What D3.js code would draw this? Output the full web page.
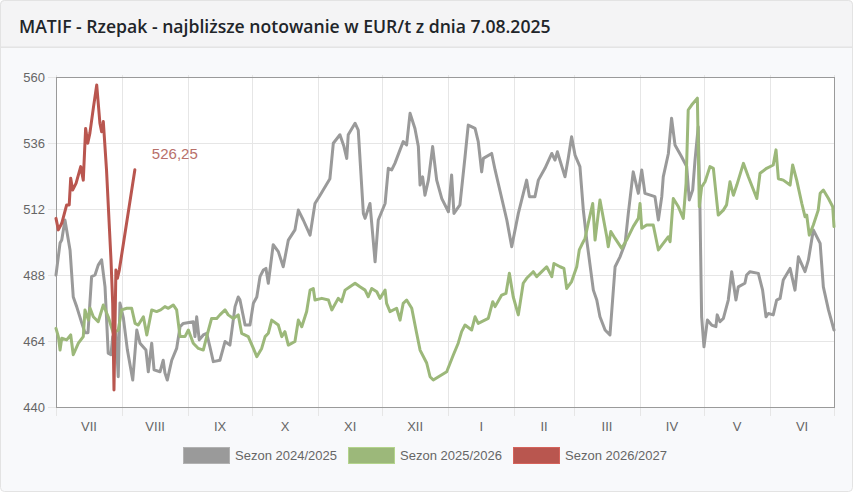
<!DOCTYPE html>
<html>
<head>
<meta charset="utf-8">
<script src="https://cdn.jsdelivr.net/npm/d3@7/dist/d3.min.js"></script>
<style>
    html, body { margin: 0; padding: 0; background: #fff; }
    #chart { width: 854px; height: 492px; }
    text { font-family: "Liberation Sans", Arial, Helvetica, sans-serif; }
</style>
</head>
<body>
<div id="chart"></div>
<script>
// month labels of the season (July -> June) and month lengths in days
var months = ["VII", "VIII", "IX", "X", "XI", "XII", "I", "II", "III", "IV", "V", "VI"];
var monthDays = [31, 31, 30, 31, 30, 31, 31, 28, 31, 30, 31, 30];
var yTicks = [440, 464, 488, 512, 536, 560];

var seriesNames = ["Sezon 2024/2025", "Sezon 2025/2026", "Sezon 2026/2027"];
var seriesColors = ["#9a9a9a", "#9cb87a", "#b9564f"];

// x = day of season (0 = 1 July), y = EUR/t
var days2425 = [0, 1.9, 2.7, 4.2, 6.6, 8.1, 9.7, 12.1, 13.6, 15.0, 16.7, 18.3, 19.8, 21.4, 23.0, 24.5, 25.8, 26.6, 28.1, 29.2,
    30.0, 31.6, 33.5, 36.0, 37.9, 39.4, 42.2, 43.3, 44.9, 46.0, 48.8, 50.3, 51.1, 52.2, 54.3, 56.6, 58.2, 59.7, 64.4, 65.2,
    66.0, 67.2, 69.1, 70.7, 72.2, 73.8, 76.9, 79.3, 81.6, 84.0, 85.5, 86.3, 88.7, 91.0, 92.6, 94.2, 95.7, 97.3, 98.5, 99.6,
    101.9, 104.3, 106.6, 109.0, 112.1, 113.7, 116.0, 119.2, 121.5, 123.9, 128.5, 130.1, 133.2, 135.1, 136.4, 137.1, 140.3, 141.8, 144.2, 145.0,
    147.3, 149.7, 151.2, 154.4, 155.9, 157.5, 159.0, 161.4, 162.9, 164.5, 166.1, 168.4, 170.0, 170.8, 172.0, 173.1, 174.7, 176.7, 178.6, 181.0,
    184.1, 185.6, 186.7, 189.5, 191.9, 193.4, 196.6, 198.1, 199.7, 200.5, 204.4, 206.0, 211.5, 213.8, 216.9, 220.8, 222.1, 224.7, 226.3, 229.4,
    232.6, 234.1, 235.2, 238.8, 240.3, 241.9, 243.5, 245.8, 247.4, 249.0, 252.1, 253.7, 255.2, 257.6, 259.9, 262.3, 264.6, 267.0, 268.5, 270.8,
    273.2, 274.8, 276.3, 281.0, 282.6, 284.2, 284.9, 287.3, 288.8, 290.4, 293.5, 295.9, 297.1, 298.7, 299.8, 301.3, 302.1, 302.9, 304.0, 305.6,
    307.6, 309.6, 310.2, 311.5, 313.1, 315.4, 317.0, 319.0, 320.1, 323.2, 324.0, 325.6, 329.5, 331.5, 333.1, 334.2, 336.5, 338.1, 339.7, 341.2,
    344.4, 346.7, 348.3, 351.4, 353.0, 355.3, 358.5, 360.0, 362.4, 365];
var vals2425 = [488, 499.6, 500.7, 508, 497, 480, 476.5, 470.5, 467, 467, 487.4, 488, 491.6, 493.5, 483.7, 459.6, 459, 465.6, 467, 451,
    477.8, 472.4, 460.7, 449.8, 468, 463.2, 460.7, 452.8, 463.2, 453.5, 452.8, 457, 452.4, 449.8, 457, 461.3, 469.2, 470.4, 471, 465.6,
    472.8, 464.4, 466.2, 466.8, 461.9, 456.5, 457, 463.8, 462.5, 476.5, 480, 479, 469.8, 469.8, 477.7, 480, 487.4, 489.8, 490.4, 485,
    499, 496.5, 491, 500.7, 504.4, 511.6, 508, 502.5, 514, 517, 523, 535.9, 539, 534.7, 530.4, 539, 543.2, 540.7, 510.4, 508.6,
    514, 492.8, 508, 514, 526.8, 526.2, 528.6, 533.5, 536.5, 535.3, 546.8, 541.3, 534.7, 520.7, 523.7, 517, 522.5, 534.7, 522.5, 515.8,
    511, 524.4, 510.4, 513.5, 531, 542.5, 541.3, 536.5, 525.5, 530.4, 532.2, 526.2, 508, 498.3, 510.4, 522.5, 516.5, 516.5, 522.5, 526.8,
    532.2, 529.8, 532.8, 523.7, 530.4, 538.3, 531.6, 527.4, 511.6, 500.7, 482.5, 478.9, 472.8, 468, 466.2, 491, 494.6, 499.5, 510.4, 525.5,
    517.7, 526.2, 517.7, 516.5, 508, 516.5, 523.7, 532.2, 545, 535.3, 531, 527.4, 515.3, 518.9, 529.8, 541.9, 512.8, 472.8, 461.9, 471.6,
    469.8, 469.2, 473.5, 471, 472.2, 478.9, 489.2, 478.9, 483.7, 485, 488, 489.2, 488.6, 482.5, 472.8, 474, 473.5, 478.9, 479.5, 486.2,
    490.4, 482.5, 494.6, 489.2, 493.5, 504.4, 499.5, 483.7, 475.3, 468];

var days2526 = [0, 1.1, 1.9, 2.7, 5.0, 6.9, 8.1, 10.5, 12.8, 13.6, 15.2, 16.0, 17.5, 19.8, 22.2, 24.5, 26.9, 29.2, 30.8, 33.2,
    35.5, 37.1, 38.6, 41.0, 42.6, 44.9, 47.2, 49.1, 51.1, 52.7, 55.0, 56.6, 58.2, 60.5, 62.1, 64.4, 66.8, 69.1, 70.7, 73.0,
    75.4, 76.9, 79.3, 80.8, 83.2, 85.5, 87.1, 90.2, 92.6, 94.2, 96.5, 98.1, 99.6, 101.2, 104.3, 105.9, 107.4, 109.0, 112.1, 113.7,
    115.3, 117.6, 119.2, 120.7, 121.5, 124.7, 127.8, 129.4, 132.4, 134.0, 135.6, 137.9, 140.3, 142.6, 145.0, 146.5, 148.1, 150.5, 152.0, 154.4,
    155.1, 156.7, 159.8, 161.4, 162.9, 164.5, 166.9, 169.2, 170.8, 173.9, 175.5, 177.0, 183.3, 186.4, 188.7, 190.3, 191.9, 195.0, 196.6, 198.1,
    202.8, 204.9, 206.0, 209.1, 211.1, 212.7, 214.5, 216.9, 219.2, 220.8, 223.9, 225.5, 227.9, 230.2, 232.6, 233.6, 236.5, 238.3, 239.6, 241.9,
    244.3, 245.5, 246.6, 248.2, 249.7, 251.8, 252.9, 255.2, 258.4, 259.1, 260.3, 262.3, 265.4, 267.7, 270.8, 273.2, 274.0, 274.8, 277.1, 280.2,
    282.6, 284.9, 287.3, 288.1, 289.6, 292.0, 294.3, 295.6, 296.6, 298.2, 300.9, 301.8, 302.9, 304.5, 306.8, 308.4, 310.7, 313.1, 314.6, 316.2,
    317.8, 319.4, 322.5, 324.8, 328.8, 330.3, 333.4, 336.5, 337.8, 338.9, 341.2, 344.4, 345.6, 347.5, 349.9, 351.4, 352.2, 353.4, 355.3, 357.6,
    358.5, 360.0, 362.4, 364.4, 365];
var vals2526 = [468.6, 465.6, 460.7, 465, 464.4, 466.2, 459, 463.2, 465.6, 475.3, 471.6, 475.9, 472.8, 471, 477.1, 472.8, 466.8, 468, 475.3, 475.9,
    475.9, 470.4, 469.8, 472.8, 466.2, 475.3, 474.7, 475.3, 476.5, 475.9, 477.1, 475.3, 465.6, 465.6, 468, 463.2, 461.3, 460.7, 465.6, 472.2,
    472.2, 473.5, 475.3, 473.5, 472.2, 473.5, 466.8, 465.6, 461.3, 458.3, 461.3, 465.6, 466.8, 471.6, 469.8, 465.6, 467.4, 462.5, 463.8, 471.6,
    469.2, 474.7, 482.5, 483.1, 478.9, 479.5, 478.9, 475.3, 479.5, 478.3, 482.5, 483.7, 485, 483.7, 482.5, 480.1, 483.1, 481.9, 479.5, 482.5,
    477.7, 474.7, 475.9, 471.6, 477.7, 478.9, 475.9, 466.8, 460.7, 456, 451, 449.8, 452.8, 458.9, 463.2, 467.4, 469.8, 468, 472.8, 470.4,
    472.2, 478.3, 476.5, 480.7, 481.3, 488.6, 480.1, 473.5, 485, 486.8, 489.2, 487.4, 489.2, 491, 487.4, 492.2, 491, 490.4, 483.1, 485.6,
    491, 497.1, 498.9, 501.3, 506.8, 514, 500.7, 515.3, 501.9, 498.3, 503.8, 501.3, 497.7, 500.7, 505.6, 508.6, 514, 505, 506.2, 506.2,
    497.1, 499.5, 501.9, 500.1, 515.8, 512.8, 508.6, 521.3, 548, 549.8, 552.3, 512.8, 520, 521.9, 527.4, 526.8, 509.8, 511.6, 513.5, 521.9,
    517, 520.7, 528.6, 523.7, 515.8, 525, 526.8, 528, 533.5, 523, 522.5, 520.7, 528, 522.5, 514, 509.2, 509.8, 502.5, 506.2, 511.6,
    517.7, 518.9, 515.8, 512.8, 505.6];

var days2627 = [0, 1.1, 2.7, 5.0, 6.2, 6.9, 7.8, 9.4, 11.6, 12.8, 13.9, 14.9, 15.9, 17.5, 19.1, 20.6, 21.4, 22.2, 23.7, 25.8,
    26.6, 27.2, 28.1, 28.8, 29.7, 37];
var vals2627 = [508.6, 504.4, 506.8, 513.5, 513.5, 523.2, 518.9, 521.3, 527.4, 522.5, 541.3, 535.9, 539.6, 548.6, 557.1, 543.2, 540.1, 543.8, 526.2, 493.5,
    477.7, 446.2, 489.8, 486.8, 489.8, 526.25];

var seriesDays = [days2425, days2526, days2627];
var seriesVals = [vals2425, vals2526, vals2627];

var W = 854, H = 492;
var margin = { top: 77, right: 20, bottom: 85, left: 56 };
var plotW = 834 - margin.left, plotH = 407 - margin.top;

var svg = d3.select("#chart").append("svg")
    .attr("width", W)
    .attr("height", H);

// card
svg.append("rect")
    .attr("x", 0.5).attr("y", 0.5)
    .attr("width", W - 2).attr("height", H - 1)
    .attr("rx", 4)
    .style("fill", "#f8f9fb")
    .style("stroke", "#e3e3e3");

svg.append("path")
    .attr("d", "M0.5,47 L0.5,4.5 Q0.5,0.5 4.5,0.5 L" + (W - 5.5) + ",0.5 Q" + (W - 1.5) + ",0.5 " + (W - 1.5) + ",4.5 L" + (W - 1.5) + ",47 Z")
    .style("fill", "#f4f4f5")
    .style("stroke", "#e3e3e3");

svg.append("line")
    .attr("x1", 1).attr("x2", W - 2)
    .attr("y1", 47.5).attr("y2", 47.5)
    .style("stroke", "#e4e4e4");

svg.append("text")
    .attr("x", 19)
    .attr("y", 33)
    .style("font-family", "'Open Sans', 'Noto Sans', sans-serif")
    .style("font-size", "17.6px")
    .style("font-weight", "600")
    .style("fill", "#212529")
    .text("MATIF - Rzepak - najbliższe notowanie w EUR/t z dnia 7.08.2025");

var g = svg.append("g")
    .attr("transform", "translate(" + margin.left + "," + margin.top + ")");

var x = d3.scaleLinear()
    .domain([0, d3.sum(monthDays)])
    .range([0, plotW]);

var y = d3.scaleLinear()
    .domain([440, 560])
    .range([plotH, 0]);

g.append("rect")
    .attr("width", plotW)
    .attr("height", plotH)
    .style("fill", "#fff");

var monthStarts = d3.cumsum([0].concat(monthDays));

// grid lines
g.selectAll(".hgrid")
    .data(yTicks)
    .enter().append("line")
    .attr("class", "hgrid")
    .attr("x1", -8).attr("x2", plotW)
    .attr("y1", function (d) { return Math.round(y(d)) + 0.5; })
    .attr("y2", function (d) { return Math.round(y(d)) + 0.5; })
    .style("stroke", "#e6e6e6")
    .style("stroke-width", 1);

g.selectAll(".vgrid")
    .data(monthStarts)
    .enter().append("line")
    .attr("class", "vgrid")
    .attr("x1", function (d) { return Math.round(x(d)) + 0.5; })
    .attr("x2", function (d) { return Math.round(x(d)) + 0.5; })
    .attr("y1", -2).attr("y2", plotH + 9)
    .style("stroke", "#e6e6e6")
    .style("stroke-width", 1);

// plot frame
g.append("rect")
    .attr("x", 0.5).attr("y", 0.5)
    .attr("width", plotW).attr("height", plotH)
    .style("fill", "none")
    .style("stroke", "#9a9a9a")
    .style("stroke-width", 1);

// y labels
g.selectAll(".ylab")
    .data(yTicks)
    .enter().append("text")
    .attr("class", "ylab")
    .attr("x", -11)
    .attr("y", function (d) { return y(d); })
    .attr("dy", "0.35em")
    .attr("text-anchor", "end")
    .style("font-size", "13px")
    .style("fill", "#666")
    .text(function (d) { return d; });

// x labels centred in each month
g.selectAll(".xlab")
    .data(months)
    .enter().append("text")
    .attr("class", "xlab")
    .attr("x", function (d, i) { return x((monthStarts[i] + monthStarts[i + 1]) / 2); })
    .attr("y", plotH + 24)
    .attr("text-anchor", "middle")
    .style("font-size", "13px")
    .style("fill", "#666")
    .text(function (d) { return d; });

var line = d3.line()
    .x(function (d) { return x(d[0]); })
    .y(function (d) { return y(d[1]); });

var seriesData = seriesDays.map(function (days, i) {
    return days.map(function (d, j) { return [d, seriesVals[i][j]]; });
});

g.selectAll(".series")
    .data(seriesData)
    .enter().append("path")
    .attr("class", "series")
    .attr("d", line)
    .style("fill", "none")
    .style("stroke", function (d, i) { return seriesColors[i]; })
    .style("stroke-width", 3)
    .style("stroke-linejoin", "round")
    .style("stroke-linecap", "round");

// last value label
var lastDay = days2627[days2627.length - 1], lastVal = vals2627[vals2627.length - 1];
g.append("text")
    .attr("x", x(lastDay) + 17)
    .attr("y", y(lastVal) - 11)
    .style("font-size", "15px")
    .style("fill", "#b8706a")
    .text(d3.format(".2f")(lastVal).replace(".", ","));

// legend
var legendX = [183, 348, 513];
var legend = svg.selectAll(".legend")
    .data(seriesNames)
    .enter().append("g")
    .attr("class", "legend")
    .attr("transform", function (d, i) { return "translate(" + legendX[i] + ",447)"; });

legend.append("rect")
    .attr("x", 0.5).attr("y", 0.5)
    .attr("width", 46).attr("height", 16)
    .style("fill", function (d, i) { return seriesColors[i]; })
    .style("stroke", function (d, i) { return d3.color(seriesColors[i]).brighter(0.4); })
    .style("stroke-width", 1);

legend.append("text")
    .attr("x", 52)
    .attr("y", 13)
    .style("font-size", "13px")
    .style("fill", "#666")
    .text(function (d) { return d; });
</script>
</body>
</html>
